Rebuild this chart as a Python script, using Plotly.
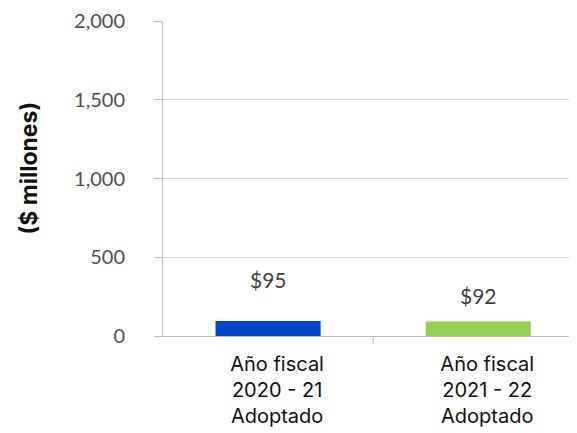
import plotly.graph_objects as go

categories = ["Año fiscal<br>2020 - 21<br>Adoptado", "Año fiscal<br>2021 - 22<br>Adoptado"]
values = [95, 92]
value_labels = ["$95", "$92"]
bar_colors = ["#0047C8", "#92D050"]
label_shifts = [42, 26]
y_ticks = [0, 500, 1000, 1500, 2000]
y_ticktext = ["0", "500", "1,000", "1,500", "2,000"]

fig = go.Figure()
fig.add_trace(go.Bar(
    x=[0, 1], y=values, marker=dict(color=bar_colors, line=dict(width=0)),
    width=0.5, hoverinfo="skip",
))

for i, (v, t, s) in enumerate(zip(values, value_labels, label_shifts)):
    fig.add_annotation(x=i, y=v, text=t, showarrow=False, yshift=s,
                       xref="x", yref="y",
                       font=dict(family="Lato", size=21, color="#404040"))

fig.add_annotation(xref="x domain", yref="y domain", x=-0.36, y=0.535,
                   text="<b>($ millones)</b>", showarrow=False, textangle=-90,
                   font=dict(family="Inter", size=23, color="#111111"))

fig.update_layout(
    width=577, height=433,
    margin=dict(l=155, r=8, t=13, b=105, autoexpand=False),
    paper_bgcolor="white", plot_bgcolor="white",
    showlegend=False,
    xaxis=dict(
        range=[-0.5, 1.47],
        tickmode="array", tickvals=[0, 1], ticktext=categories,
        showgrid=False, zeroline=False,
        showline=True, linecolor="#bfbfbf", linewidth=1,
        ticks="",
        tickfont=dict(family="Inter", size=20, color="#111111"),
        ticklabelstandoff=10, ticklabelshift=9,
        automargin=False,
        fixedrange=True,
    ),
    yaxis=dict(
        range=[0, 2000],
        tickmode="array", tickvals=y_ticks, ticktext=y_ticktext,
        showgrid=True, gridcolor="#d9d9d9", gridwidth=1,
        zeroline=False,
        showline=True, linecolor="#bfbfbf", linewidth=1,
        ticks="outside", ticklen=8, tickcolor="#bfbfbf",
        tickfont=dict(family="Lato", size=20, color="#505050"),
        ticklabelstandoff=25,
        automargin=False,
        fixedrange=True,
    ),
)

# divider tick between categories on the x axis
fig.add_shape(type="line", xref="x", yref="paper", x0=0.5, x1=0.5, y0=0, y1=-0.025,
              line=dict(color="#bfbfbf", width=1))

fig.write_html("out.html")
